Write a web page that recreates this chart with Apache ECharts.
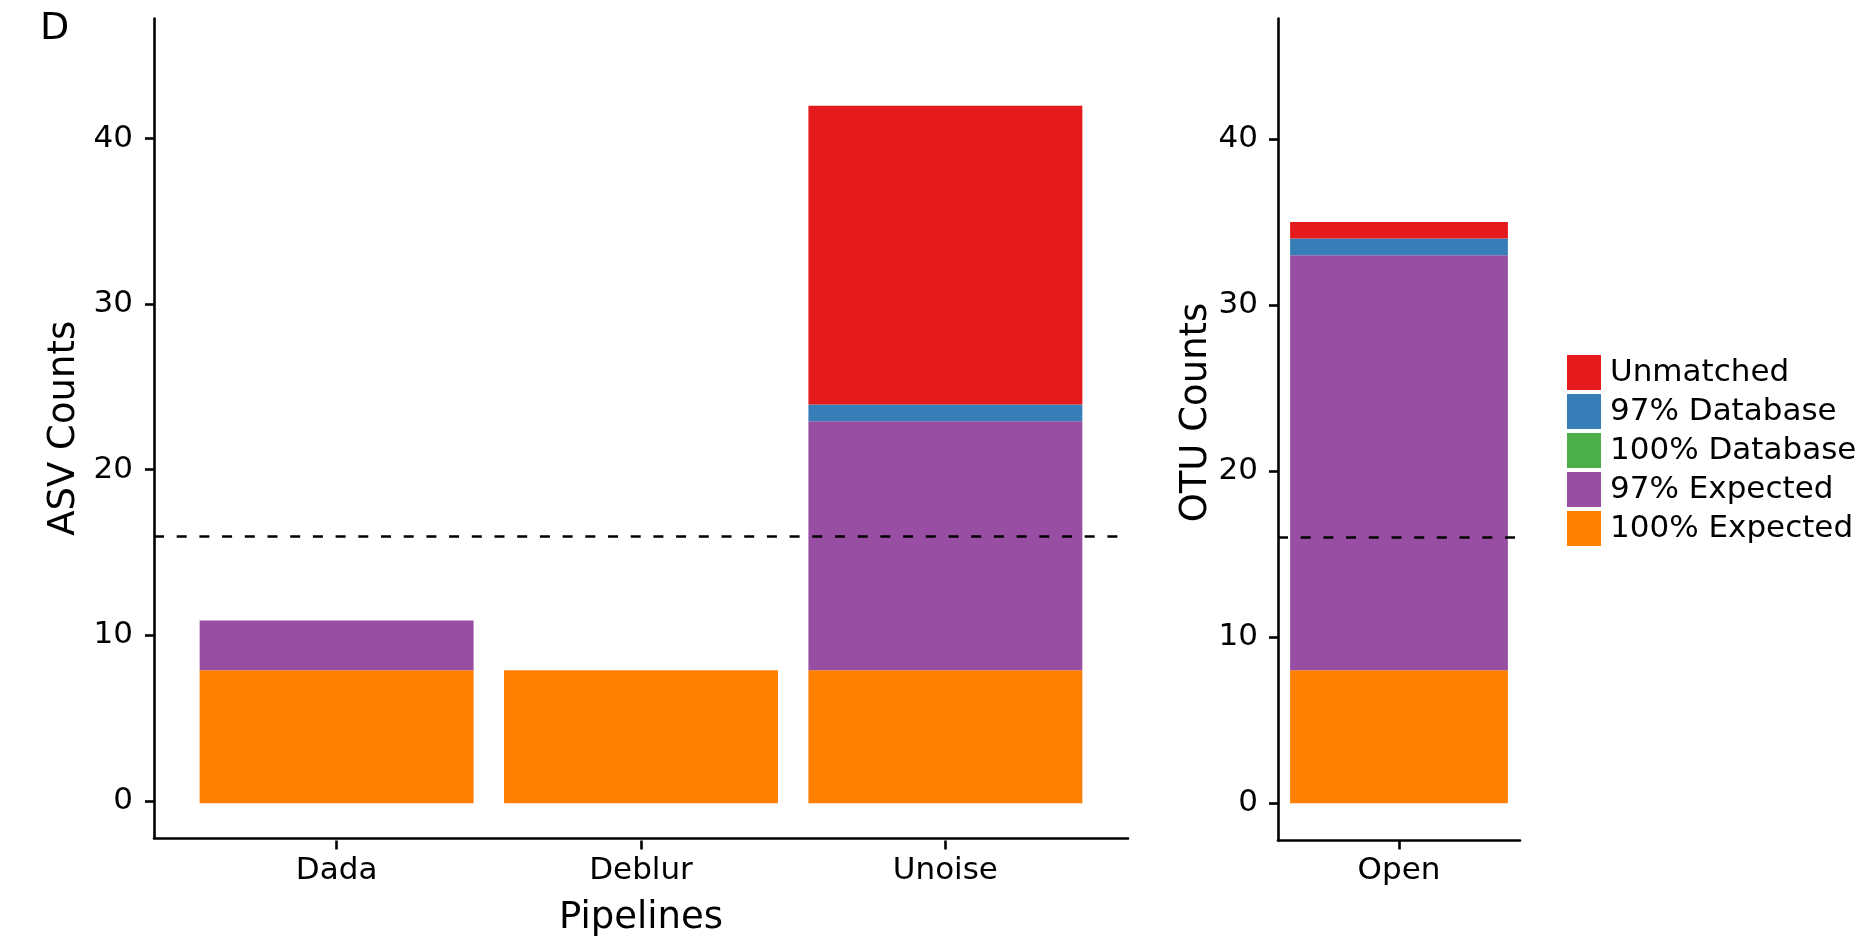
<!DOCTYPE html>
<html>
<head>
<meta charset="utf-8">
<title>ASV and OTU counts by pipeline</title>
<script src="https://cdn.jsdelivr.net/npm/echarts@6/dist/echarts.min.js"></script>
<style>
  html, body { margin: 0; padding: 0; background: #fff; }
  #chart { width: 1873px; height: 942px; }
</style>
</head>
<body>
<div id="chart"></div>
<script>
// Categories
const pipelines = ['Dada', 'Deblur', 'Unoise'];
const otuPipelines = ['Open'];

// Match classes, listed bottom of stack first
const classNames = ['100% Expected', '97% Expected', '100% Database', '97% Database', 'Unmatched'];
const legendOrder = ['Unmatched', '97% Database', '100% Database', '97% Expected', '100% Expected'];
const classColors = ['#FF7F00', '#984EA3', '#4DAF4A', '#377EB8', '#E41A1C'];

// ASV counts per pipeline (Dada, Deblur, Unoise)
const asvExpected100 = [8, 8, 8];
const asvExpected97 = [3, 0, 15];
const asvDatabase100 = [0, 0, 0];
const asvDatabase97 = [0, 0, 1];
const asvUnmatched = [0, 0, 18];

// OTU counts (Open)
const otuExpected100 = [8];
const otuExpected97 = [25];
const otuDatabase100 = [0];
const otuDatabase97 = [1];
const otuUnmatched = [1];

// Number of expected taxa (dashed reference line)
const expectedCount = 16;

// Count axis tick labels
const countTicks = [0, 10, 20, 30, 40];

const asvSeriesData = [asvExpected100, asvExpected97, asvDatabase100, asvDatabase97, asvUnmatched];
const otuSeriesData = [otuExpected100, otuExpected97, otuDatabase100, otuDatabase97, otuUnmatched];

const FONT = 'DejaVu Sans';
const TICK_SIZE = 31;
const TITLE_SIZE = 37;

// Panel geometry: the ASV panel frame is wider than its band of categories
const gridTop = 18.5, gridH = 822;
const leftX = 154, leftW = 974;
const rightX = 1278, rightW = 242;
const xPad = 0.6; // frame space beyond the outer category centres, in category units
const bandW = leftW / (pipelines.length - 1 + 2 * xPad);
const bandX = leftX + (xPad - 0.5) * bandW;
const bandTotalW = bandW * pipelines.length;

const yMin = -2.25, yMax = 47.25;

const axisLine = { show: true, onZero: false, lineStyle: { color: '#000', width: 2.6 } };
const axisTick = { show: true, length: 9, lineStyle: { color: '#000', width: 2.6 } };
const tickText = { fontFamily: FONT, fontSize: TICK_SIZE, color: '#000' };
const titleText = { fontFamily: FONT, fontSize: TITLE_SIZE, color: '#000' };

function countAxis(gridIndex, name, nameGap, namePadding, labelMargin) {
  return {
    type: 'value', gridIndex, min: yMin, max: yMax,
    name, nameLocation: 'middle', nameGap,
    nameTextStyle: Object.assign({ padding: namePadding }, titleText),
    axisLine, splitLine: { show: false },
    axisTick: Object.assign({ customValues: countTicks }, axisTick),
    axisLabel: Object.assign({ customValues: countTicks, margin: labelMargin }, tickText)
  };
}

const dashLine = {
  silent: true, symbol: ['none', 'none'],
  label: { show: false },
  lineStyle: { color: '#000', type: [10, 12.7], width: 2.5 },
  emphasis: { disabled: true },
  data: [{ yAxis: expectedCount }]
};

const series = [
  // carry the dashed expected-count line across each full panel frame
  { type: 'line', xAxisIndex: 0, yAxisIndex: 0, data: [], silent: true, markLine: dashLine },
  { type: 'line', xAxisIndex: 2, yAxisIndex: 2, data: [], silent: true, markLine: dashLine }
];
classNames.forEach((name, i) => {
  series.push({
    name, type: 'bar', stack: 'asv', xAxisIndex: 1, yAxisIndex: 1,
    barWidth: '90%', itemStyle: { color: classColors[i] },
    emphasis: { disabled: true },
    data: asvSeriesData[i]
  });
  series.push({
    name, type: 'bar', stack: 'otu', xAxisIndex: 2, yAxisIndex: 2,
    barWidth: '90%', itemStyle: { color: classColors[i] },
    emphasis: { disabled: true },
    data: otuSeriesData[i]
  });
});

const chart = echarts.init(document.getElementById('chart'), null, { renderer: 'canvas' });
chart.setOption({
  backgroundColor: '#fff',
  animation: false,
  graphic: [{
    type: 'text', left: 40, top: 10,
    style: { text: 'D', font: '38px "' + FONT + '"', fill: '#000' }
  }],
  legend: {
    data: legendOrder, orient: 'vertical', left: 1567, top: 355, padding: 0,
    icon: 'rect', itemWidth: 34, itemHeight: 35, itemGap: 4,
    selectedMode: false,
    textStyle: Object.assign({ padding: [0, 0, 0, 4] }, tickText)
  },
  grid: [
    { left: leftX, top: gridTop, width: leftW, height: gridH },
    { left: bandX, top: gridTop, width: bandTotalW, height: gridH },
    { left: rightX, top: gridTop, width: rightW, height: gridH }
  ],
  xAxis: [
    {
      // ASV panel frame: axis line and title
      type: 'value', gridIndex: 0, min: 0, max: 1,
      name: 'Pipelines', nameLocation: 'middle', nameGap: 62,
      nameTextStyle: titleText,
      axisLine, splitLine: { show: false }, axisTick: { show: false }, axisLabel: { show: false }
    },
    {
      // ASV pipelines
      type: 'category', gridIndex: 1, data: pipelines,
      axisLine: { show: false, onZero: false },
      axisTick: Object.assign({ alignWithLabel: true }, axisTick),
      axisLabel: Object.assign({ margin: 15 }, tickText)
    },
    {
      type: 'category', gridIndex: 2, data: otuPipelines,
      axisLine, axisTick: Object.assign({ alignWithLabel: true }, axisTick),
      axisLabel: Object.assign({ margin: 15 }, tickText)
    }
  ],
  yAxis: [
    countAxis(0, 'ASV Counts', 61, 0, 21),
    { type: 'value', gridIndex: 1, min: yMin, max: yMax, show: false },
    countAxis(2, 'OTU Counts', 60, [0, 0, 0, 34], 20)
  ],
  series
});
</script>
</body>
</html>
